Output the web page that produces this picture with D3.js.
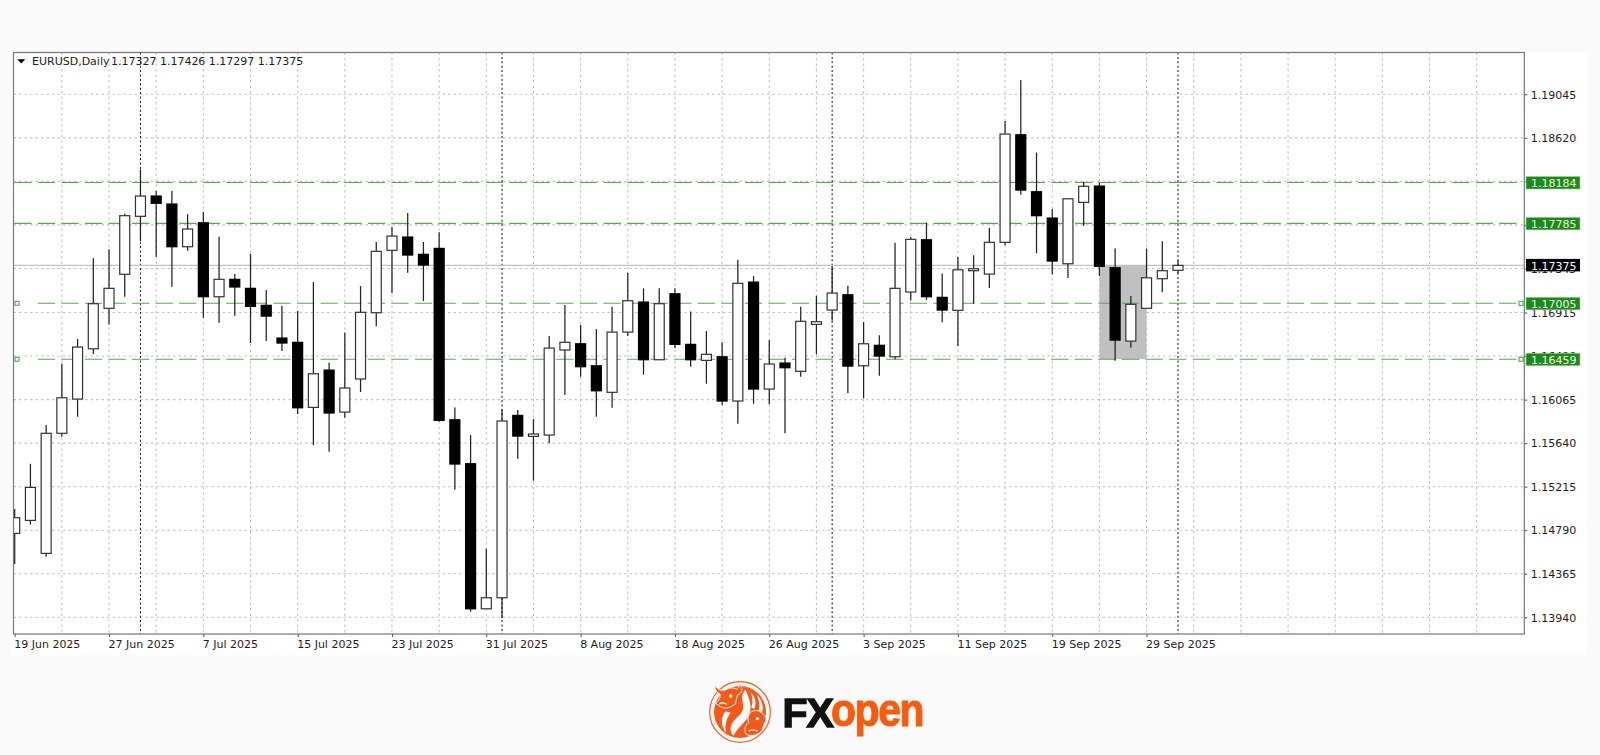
<!DOCTYPE html>
<html><head><meta charset="utf-8">
<script src="https://cdn.jsdelivr.net/npm/d3@7/dist/d3.min.js"></script>
<style>
html,body{margin:0;padding:0;background:#fafafa;overflow:hidden}
svg{display:block;filter:blur(0.35px)}
text{font-family:"DejaVu Sans",sans-serif;font-size:11px;fill:#1c1c28}
.axis path,.axis line{stroke:#555;shape-rendering:auto}
</style></head><body>
<svg id="c" width="1600" height="755"></svg>
<script>
// Daily bars
const opens=[1.14759,1.14886,1.14564,1.15736,1.16070,1.16561,1.16956,1.17288,1.17854,1.18052,1.17974,1.17557,1.17791,1.17069,1.17239,1.17151,1.16985,1.16666,1.16624,1.15989,1.16353,1.15943,1.16266,1.16913,1.17522,1.17652,1.17483,1.17541,1.15868,1.15439,1.14023,1.14131,1.15911,1.15706,1.15719,1.16549,1.16610,1.16395,1.16136,1.16724,1.17017,1.16454,1.17098,1.16604,1.16448,1.16483,1.16051,1.17212,1.16168,1.16422,1.16341,1.16799,1.16939,1.17088,1.16395,1.16595,1.16483,1.17115,1.17625,1.17063,1.16936,1.17323,1.17290,1.17600,1.18650,1.18094,1.17837,1.17391,1.17990,1.18149,1.17352,1.16636,1.16956,1.17245,1.17327];
const highs=[1.14997,1.15439,1.15817,1.16415,1.16656,1.17444,1.17532,1.17879,1.18312,1.18101,1.18101,1.17873,1.17896,1.17655,1.17290,1.17489,1.17134,1.16978,1.16929,1.17212,1.16425,1.16721,1.17173,1.17603,1.17752,1.17886,1.17603,1.17698,1.15989,1.15719,1.14609,1.15970,1.15963,1.15875,1.16685,1.16988,1.16793,1.16751,1.16971,1.17303,1.17151,1.17151,1.17151,1.16926,1.16734,1.16624,1.17430,1.17271,1.16646,1.16473,1.16971,1.17079,1.17369,1.17176,1.16822,1.16692,1.17596,1.17652,1.17791,1.17297,1.17456,1.17473,1.17742,1.18784,1.19184,1.18478,1.17925,1.18025,1.18191,1.18182,1.17541,1.17076,1.17541,1.17610,1.17426];
const lows=[1.14460,1.14847,1.14531,1.15702,1.15898,1.16510,1.16799,1.17069,1.17613,1.17459,1.17167,1.17518,1.16864,1.16815,1.16883,1.16617,1.16636,1.16539,1.15924,1.15621,1.15556,1.15888,1.16139,1.16780,1.17102,1.17303,1.17027,1.15849,1.15185,1.13994,1.14023,1.13933,1.15488,1.15273,1.15638,1.16109,1.16288,1.15898,1.15985,1.16685,1.16308,1.16454,1.16565,1.16386,1.16220,1.16012,1.15829,1.16024,1.16019,1.15736,1.16288,1.16507,1.16835,1.16126,1.16077,1.16298,1.16458,1.17034,1.17037,1.16819,1.16588,1.17001,1.17154,1.17571,1.18065,1.17493,1.17288,1.17251,1.17762,1.17274,1.16444,1.16571,1.16956,1.17112,1.17297];
const closes=[1.14912,1.15208,1.15736,1.16083,1.16578,1.17001,1.17151,1.17860,1.18052,1.17981,1.17557,1.17730,1.17069,1.17239,1.17164,1.16975,1.16880,1.16617,1.15985,1.16317,1.15934,1.16178,1.16917,1.17512,1.17661,1.17476,1.17378,1.15862,1.15436,1.14023,1.14131,1.15856,1.15709,1.15729,1.16568,1.16624,1.16386,1.16151,1.16724,1.17030,1.16454,1.17001,1.16604,1.16454,1.16507,1.16051,1.17200,1.16168,1.16412,1.16376,1.16829,1.16825,1.17105,1.16392,1.16610,1.16490,1.17151,1.17629,1.17069,1.16939,1.17332,1.17342,1.17600,1.18657,1.18110,1.17860,1.17417,1.18025,1.18147,1.17366,1.16646,1.16995,1.17254,1.17323,1.17375];

const priceTicks=[1.19045,1.18620,1.18195,1.17770,1.17345,1.16915,1.16490,1.16065,1.15640,1.15215,1.14790,1.14365,1.13940];
const dateTickBars=[0,6,12,18,24,30,36,42,48,54,60,66,72];
const dateTickLabels=["19 Jun 2025","27 Jun 2025","7 Jul 2025","15 Jul 2025","23 Jul 2025","31 Jul 2025","8 Aug 2025","18 Aug 2025","26 Aug 2025","3 Sep 2025","11 Sep 2025","19 Sep 2025","29 Sep 2025"];
const gridBars=d3.range(3,94,3);
const monthSeparatorBars=[8,31,52,74];
const levels=[1.18184,1.17785,1.17005,1.16459];
const anchoredLevels=[1.17005,1.16459];
const lastPrice=1.17375;
const header=["EURUSD,Daily","1.17327","1.17426","1.17297","1.17375"];
const zone={fromBar:69,toBar:72,top:1.17375,bottom:1.16459};

const L=13.5,R=1524.3,T=52.5,B=634;
const x=d3.scaleLinear().domain([0,74]).range([14.7,1178]);
const y=d3.scaleLinear().domain([1.13940,1.19045]).range([617.3,94.3]);
const bars=d3.range(opens.length).map(i=>({i,o:opens[i],h:highs[i],l:lows[i],c:closes[i]}));
const svg=d3.select("#c");

svg.append("rect").attr("x",11).attr("y",52).attr("width",1576).attr("height",603).attr("fill","#fff");
svg.append("defs").append("clipPath").attr("id","plot").append("rect").attr("x",L).attr("y",T).attr("width",R-L).attr("height",B-T);
const plot=svg.append("g").attr("clip-path","url(#plot)");

// grid
plot.selectAll("line.gv").data(gridBars).join("line").attr("class","gv")
  .attr("x1",d=>x(d)).attr("x2",d=>x(d)).attr("y1",T).attr("y2",B)
  .attr("stroke","#c4c4c4").attr("stroke-width",1.1).attr("stroke-dasharray","2.5 3");
plot.selectAll("line.gh").data(priceTicks).join("line").attr("class","gh")
  .attr("x1",L).attr("x2",R).attr("y1",d=>y(d)).attr("y2",d=>y(d))
  .attr("stroke","#c4c4c4").attr("stroke-width",1.1).attr("stroke-dasharray","2.5 3");

// highlighted zone
plot.append("rect").attr("x",x(zone.fromBar)).attr("width",x(zone.toBar)-x(zone.fromBar))
  .attr("y",y(zone.top)).attr("height",y(zone.bottom)-y(zone.top)).attr("fill","#c0c0c0");

// month separators
plot.selectAll("line.sep").data(monthSeparatorBars).join("line").attr("class","sep")
  .attr("x1",d=>x(d)).attr("x2",d=>x(d)).attr("y1",T).attr("y2",B)
  .attr("stroke","#222").attr("stroke-width",1.1).attr("stroke-dasharray","2 2.4");

// last price line
plot.append("line").attr("x1",L).attr("x2",R).attr("y1",y(lastPrice)).attr("y2",y(lastPrice))
  .attr("stroke","#c2c2c2").attr("stroke-width",1.1);

// green levels
plot.selectAll("line.lvl").data(levels).join("line").attr("class","lvl")
  .attr("x1",d=>anchoredLevels.includes(d)?37.7:14.3).attr("x2",d=>anchoredLevels.includes(d)?1519:1517.5)
  .attr("y1",d=>y(d)).attr("y2",d=>y(d))
  .attr("stroke","#55aa50").attr("stroke-width",1.05).attr("stroke-dasharray","17.3 6.27");
[17,1521].forEach(px=>{
  plot.selectAll(null).data(anchoredLevels).join("rect")
    .attr("x",px-2).attr("y",d=>y(d)-2).attr("width",4).attr("height",4)
    .attr("fill","#fff").attr("stroke","#3f9f3f").attr("stroke-width",1);
});

// candles
const g=plot.selectAll("g.bar").data(bars).join("g").attr("class","bar");
g.append("line").attr("x1",d=>x(d.i)).attr("x2",d=>x(d.i)).attr("y1",d=>y(d.h)).attr("y2",d=>y(d.l))
  .attr("stroke","#222").attr("stroke-width",1.25);
g.append("rect").attr("x",d=>x(d.i)-5).attr("width",10)
  .attr("y",d=>y(Math.max(d.o,d.c))).attr("height",d=>Math.abs(y(d.o)-y(d.c)))
  .attr("fill",d=>d.c<d.o?"#000":"#fff").attr("stroke",d=>d.c<d.o?"#000":"#333").attr("stroke-width",1.2);

// frame
svg.append("rect").attr("x",L).attr("y",T).attr("width",R-L).attr("height",B-T).attr("fill","none").attr("stroke","#777").attr("stroke-width",1.2);

// axes
const ay=svg.append("g").attr("class","axis").attr("transform",`translate(${R},0)`)
  .call(d3.axisRight(y).tickValues(priceTicks).tickFormat(d3.format(".5f")).tickSize(3).tickPadding(3.5));
ay.select(".domain").remove();
ay.selectAll("text").attr("dy","0.34em");
const ax=svg.append("g").attr("class","axis date").attr("transform",`translate(0,${B})`)
  .call(d3.axisBottom(x).tickValues(dateTickBars).tickFormat((d,i)=>dateTickLabels[i]).tickSize(3).tickPadding(2.5));
ax.select(".domain").remove();
ax.selectAll("text").attr("text-anchor","start").attr("dx",-1).attr("dy","0.76em");

// price flags
levels.forEach(p=>{
  const yy=y(p);
  svg.append("rect").attr("x",1526).attr("y",yy-6).attr("width",54).attr("height",12.5)
    .attr("fill","#1d8a17").attr("stroke","#9ad29a").attr("stroke-width",.6);
  svg.append("text").attr("x",1531).attr("y",yy+4.5).style("fill","#e8f8e8").text(d3.format(".5f")(p));
});
svg.append("rect").attr("x",1526).attr("y",y(lastPrice)-6.5).attr("width",54).attr("height",12.5).attr("fill","#000");
svg.append("text").attr("x",1531).attr("y",y(lastPrice)+4.2).style("fill","#fff").text(d3.format(".5f")(lastPrice));

// header
svg.append("path").attr("d","M17.3 59.3H25.3L21.3 63.6Z").attr("fill","#000");
svg.append("text").attr("x",32).attr("y",64.8).text(header[0]);
svg.append("text").attr("x",111).attr("y",64.8).style("word-spacing","-0.1px").text(header.slice(1).join(" "));

// logo
const orange="#f4591a", paper="#fafafa";
const lg=svg.append("g").attr("transform","translate(700,672) scale(0.3333)");
lg.append("circle").attr("cx",120).attr("cy",120).attr("r",91).attr("fill",paper).attr("stroke",orange).attr("stroke-width",3.5);
lg.append("circle").attr("cx",120).attr("cy",120).attr("r",78).attr("fill",orange);
[
 "M136 52 C112 84 146 104 118 130 C92 152 84 172 100 192 C112 168 134 154 146 132 C160 104 146 78 136 52Z",
 "M170 66 C186 84 192 104 186 124 L176 118 C180 100 178 84 170 66Z",
 "M76 118 C62 136 62 164 78 182 C74 160 78 140 92 122Z",
 "M152 60 C168 78 170 96 162 112 L154 106 C160 92 158 76 152 60Z"
].forEach(d=>lg.append("path").attr("d",d).attr("fill",paper));
lg.append("path").attr("d","M46 40 C52 54 64 56 76 54 C88 46 102 46 110 52 C117 48 120 42 116 33 C130 44 128 64 112 70 L106 96 C90 108 74 112 62 104 L46 94 C58 86 62 76 60 66 C48 60 43 50 46 40Z")
  .attr("fill",orange).attr("stroke",paper).attr("stroke-width",3);
lg.append("path").attr("d","M150 122 C162 112 178 114 186 124 C198 130 202 144 194 152 L186 176 C172 192 150 194 138 186 C132 176 134 160 146 152 C142 140 144 130 150 122Z")
  .attr("fill",orange).attr("stroke",paper).attr("stroke-width",3);
lg.append("circle").attr("cx",92).attr("cy",72).attr("r",5).attr("fill",paper);
lg.append("circle").attr("cx",172).attr("cy",140).attr("r",5).attr("fill",paper);
lg.append("path").attr("d","M58 96 C66 90 76 92 80 98").attr("fill","none").attr("stroke",paper).attr("stroke-width",4);
lg.append("path").attr("d","M146 178 C154 172 166 172 172 178").attr("fill","none").attr("stroke",paper).attr("stroke-width",4);

svg.append("text").attr("transform","translate(782.5,727)").style("letter-spacing","-1px")
  .style("font-family","'Liberation Sans',Arial,sans-serif").style("font-weight",700).style("font-size","41px").style("fill","#111").style("stroke","#111").style("stroke-width","1.4px").text("FX");
svg.append("text").attr("transform","translate(831,725.5) scale(0.89,1)").style("letter-spacing","-1.6px")
  .style("font-family","'Liberation Sans',Arial,sans-serif").style("font-weight",700).style("font-size","46px").style("fill","#fa5a0a").style("stroke","#fa5a0a").style("stroke-width","1px").text("open");
</script>
</body></html>
